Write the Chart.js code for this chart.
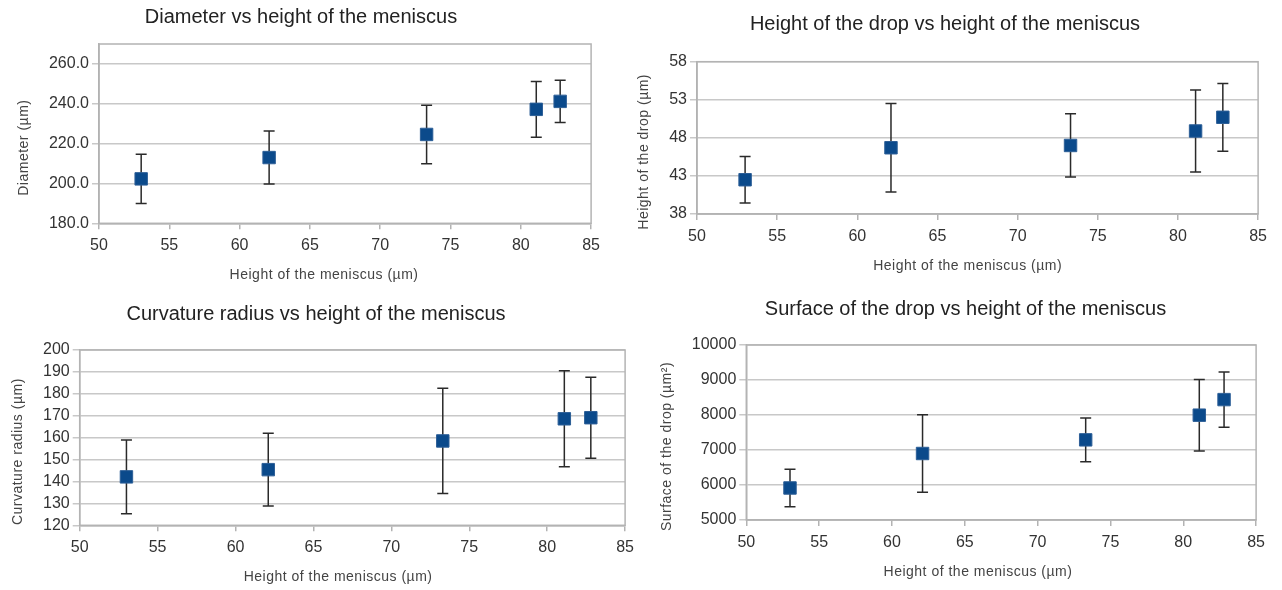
<!DOCTYPE html>
<html>
<head>
<meta charset="utf-8">
<script src="https://cdn.jsdelivr.net/npm/chart.js@4.4.0/dist/chart.umd.min.js"></script>
<style>
    body { margin: 0; width: 1282px; height: 590px; background: #fff; position: relative; overflow: hidden; }
    canvas { position: absolute; }
</style>
</head>
<body>
<canvas id="chartDiameter" width="612" height="295" style="left:-5px;top:0px"></canvas>
<canvas id="chartDropHeight" width="658" height="295" style="left:616px;top:0px"></canvas>
<canvas id="chartCurvature" width="650" height="295" style="left:-9px;top:295px"></canvas>
<canvas id="chartSurface" width="613" height="295" style="left:659px;top:295px"></canvas>
<script>
// Height of the meniscus (µm), shared by the four charts
const meniscusHeight = [53.0, 62.1, 73.3, 81.1, 82.8];
const xTicks = [50, 55, 60, 65, 70, 75, 80, 85];

// Diameter (µm) and its error
const diameter = [202.3, 213.0, 224.6, 237.2, 241.2];
const diameterErr = [12.4, 13.3, 14.7, 14.0, 10.6];
const diameterTicks = [180, 200, 220, 240, 260];

// Height of the drop (µm) and its error
const dropHeight = [42.5, 46.7, 47.0, 48.9, 50.7];
const dropHeightErr = [3.05, 5.8, 4.15, 5.4, 4.45];
const dropHeightTicks = [38, 43, 48, 53, 58];

// Curvature radius (µm) and its error
const curvature = [142.1, 145.4, 158.5, 168.6, 169.1];
const curvatureErr = [16.8, 16.6, 24.0, 21.9, 18.5];
const curvatureTicks = [120, 130, 140, 150, 160, 170, 180, 190, 200];

// Surface of the drop (µm²) and its error
const surface = [5915, 6900, 7290, 7995, 8440];
const surfaceErr = [535, 1110, 625, 1020, 790];
const surfaceTicks = [5000, 6000, 7000, 8000, 9000, 10000];

const FONT = '"Liberation Sans", Arial, sans-serif';
const TICK_SIZE = 16;

Chart.defaults.font.family = FONT;
Chart.defaults.color = '#333';

// Grey frame round the plot area
const frameBox = {
    id: 'frameBox',
    beforeDatasetsDraw(chart) {
        const { ctx, chartArea: a } = chart;
        ctx.save();
        ctx.strokeStyle = '#b3b3b3';
        ctx.lineWidth = 1.5;
        ctx.strokeRect(a.left, a.top, a.right - a.left, a.bottom - a.top);
        ctx.restore();
    }
};

// Vertical error bars, drawn under the markers
const errorBars = {
    id: 'errorBars',
    beforeDatasetsDraw(chart, args, opts) {
        const { ctx, scales: { x, y } } = chart;
        const points = chart.data.datasets[0].data;
        ctx.save();
        ctx.strokeStyle = '#2a2a2a';
        ctx.lineWidth = 1.5;
        points.forEach((p, i) => {
            const px = x.getPixelForValue(p.x);
            const top = y.getPixelForValue(p.y + opts.errors[i]);
            const bottom = y.getPixelForValue(p.y - opts.errors[i]);
            ctx.beginPath();
            ctx.moveTo(px, top);
            ctx.lineTo(px, bottom);
            ctx.moveTo(px - 5.5, top);
            ctx.lineTo(px + 5.5, top);
            ctx.moveTo(px - 5.5, bottom);
            ctx.lineTo(px + 5.5, bottom);
            ctx.stroke();
        });
        ctx.restore();
    }
};

// Axis titles, centred on the plot plus its tick labels (as the original does)
const axisTitles = {
    id: 'axisTitles',
    afterDraw(chart, args, opts) {
        const { ctx, chartArea: a, scales: { y } } = chart;
        ctx.save();
        ctx.font = TICK_SIZE + 'px ' + FONT;
        const widest = Math.max(...y.ticks.map(t => ctx.measureText(t.label).width));
        const labelLeft = a.left - 10 - widest;

        ctx.font = '14px ' + FONT;
        ctx.fillStyle = '#444';
        ctx.textAlign = 'center';
        ctx.textBaseline = 'middle';
        ctx.letterSpacing = '0.5px';
        ctx.fillText(opts.x, (labelLeft + a.right + 8) / 2, a.bottom + 52);

        ctx.translate(labelLeft - 25, (a.top + a.bottom) / 2 + 14);
        ctx.rotate(-Math.PI / 2);
        ctx.fillText(opts.y, 0, 0);
        ctx.restore();
    }
};

function makeChart(id, cfg) {
    const points = meniscusHeight.map((x, i) => ({ x: x, y: cfg.values[i] }));
    const yTicks = cfg.ticks;

    return new Chart(document.getElementById(id), {
        type: 'scatter',
        data: {
            datasets: [{
                data: points,
                pointStyle: 'rect',
                pointRadius: 8.8,
                pointHoverRadius: 8.8,
                backgroundColor: '#0b4a8b',
                borderColor: '#2d5f97',
                borderWidth: 1
            }]
        },
        options: {
            responsive: false,
            animation: false,
            events: [],
            layout: { padding: 0 },
            plugins: {
                legend: { display: false },
                tooltip: { enabled: false },
                title: {
                    display: true,
                    text: cfg.title,
                    color: '#222',
                    font: { size: 20, weight: 'normal' },
                    padding: { top: cfg.titleTop, bottom: cfg.titleBottom }
                },
                errorBars: { errors: cfg.errors },
                axisTitles: { x: 'Height of the meniscus (µm)', y: cfg.yLabel }
            },
            scales: {
                x: {
                    type: 'linear',
                    min: xTicks[0],
                    max: xTicks[xTicks.length - 1],
                    afterBuildTicks: s => { s.ticks = xTicks.map(v => ({ value: v })); },
                    afterFit: s => { s.height = cfg.xAxisHeight; },
                    ticks: { font: { size: TICK_SIZE }, color: '#333', padding: 7, autoSkip: false, maxRotation: 0 },
                    grid: { drawOnChartArea: false, tickLength: 6, color: '#b3b3b3', lineWidth: 1.5 },
                    border: { color: '#b3b3b3', width: 1.5 }
                },
                y: {
                    type: 'linear',
                    min: yTicks[0],
                    max: cfg.yMax,
                    afterBuildTicks: s => { s.ticks = yTicks.map(v => ({ value: v })); },
                    afterFit: s => { s.width = cfg.yAxisWidth; },
                    ticks: {
                        font: { size: TICK_SIZE },
                        color: '#333',
                        padding: 3,
                        autoSkip: false,
                        callback: v => cfg.decimals ? v.toFixed(cfg.decimals) : String(v)
                    },
                    grid: { tickLength: 7, color: '#c8c8c8', lineWidth: 1.5 },
                    border: { color: '#b3b3b3', width: 1.5 }
                }
            }
        },
        plugins: [frameBox, errorBars, axisTitles]
    });
}

makeChart('chartDiameter', {
    title: 'Diameter vs height of the meniscus',
    yLabel: 'Diameter (µm)',
    values: diameter, errors: diameterErr, ticks: diameterTicks,
    yMax: 270, decimals: 1,
    titleTop: 5.5, titleBottom: 14.5, yAxisWidth: 104, xAxisHeight: 71.7
});

makeChart('chartDropHeight', {
    title: 'Height of the drop vs height of the meniscus',
    yLabel: 'Height of the drop (µm)',
    values: dropHeight, errors: dropHeightErr, ticks: dropHeightTicks,
    yMax: 58, decimals: 0,
    titleTop: 12.5, titleBottom: 25.2, yAxisWidth: 81, xAxisHeight: 81
});

makeChart('chartCurvature', {
    title: 'Curvature radius vs height of the meniscus',
    yLabel: 'Curvature radius (µm)',
    values: curvature, errors: curvatureErr, ticks: curvatureTicks,
    yMax: 200, decimals: 0,
    titleTop: 7, titleBottom: 24, yAxisWidth: 88.7, xAxisHeight: 64.7
});

makeChart('chartSurface', {
    title: 'Surface of the drop vs height of the meniscus',
    yLabel: 'Surface of the drop (µm²)',
    values: surface, errors: surfaceErr, ticks: surfaceTicks,
    yMax: 10000, decimals: 0,
    titleTop: 2.5, titleBottom: 23.5, yAxisWidth: 87.3, xAxisHeight: 70
});
</script>
</body>
</html>
